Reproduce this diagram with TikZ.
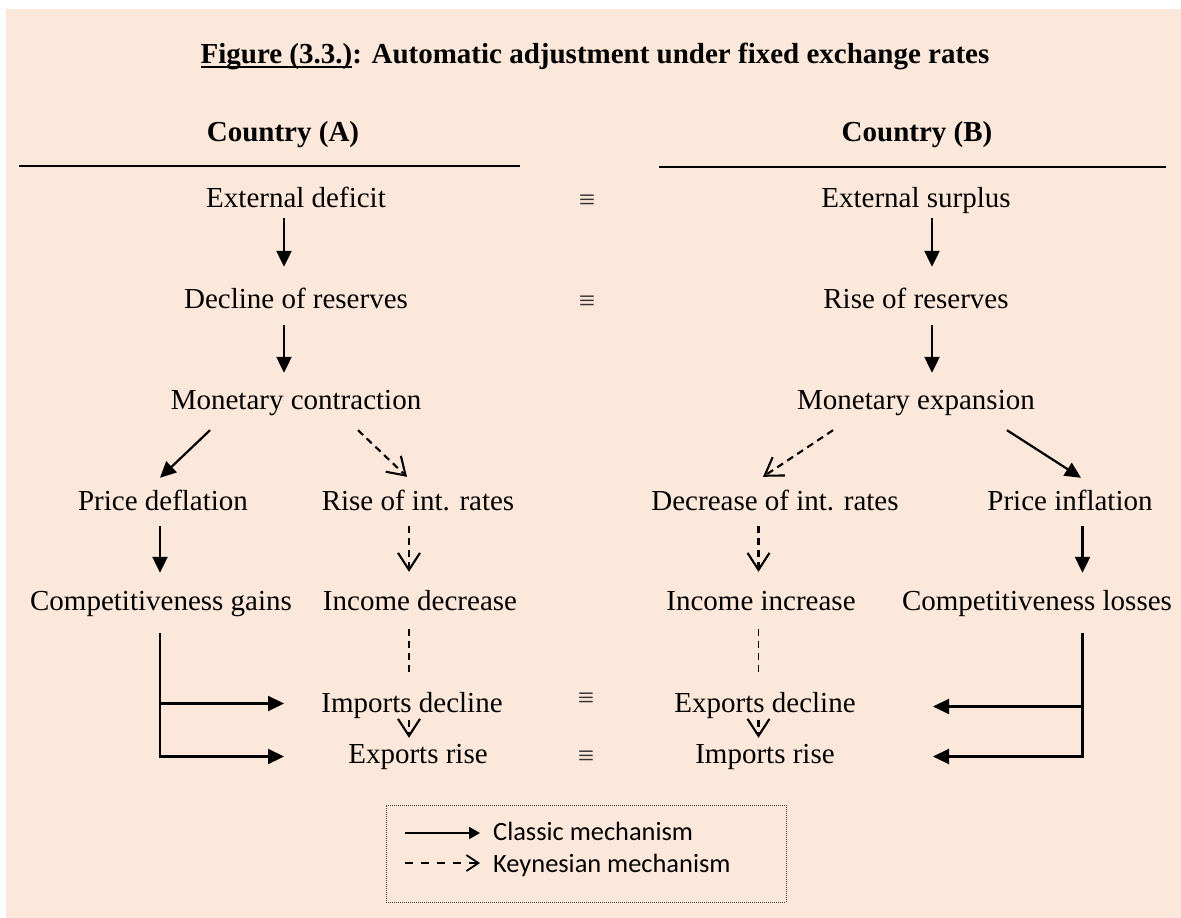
\documentclass[tikz,border=0pt]{standalone}
\usepackage{fontspec}
\setmainfont{Liberation Serif}
\newfontfamily\legendfont{Carlito}
\usetikzlibrary{arrows.meta,calc}
\definecolor{bgpeach}{RGB}{252,232,218}
\newcommand{\bodysize}{\fontsize{29}{34}\selectfont}
\newcommand{\myul}[1]{\setbox0\hbox{#1}\rlap{\rule[-5pt]{\wd0}{2pt}}\box0}
\begin{document}
\begin{tikzpicture}[x=1pt,y=-1pt,
  every node/.style={font=\bodysize},
  lbl/.style={inner sep=0pt, text height=20pt, text depth=7pt, anchor=base},
  eqv/.style={inner sep=0pt, text=black!80},
  solidarr/.style={line width=2.2pt, -{Triangle[length=16pt,width=15pt]}},
  dasharr/.style={line width=2.1pt, dash pattern=on 7pt off 5pt, -{Straight Barb[length=17pt,width=22pt,line width=2.1pt]}},
  dashline/.style={line width=1.6pt, dash pattern=on 7pt off 5pt},
  rulestyle/.style={line width=2pt},
  legtext/.style={inner sep=0pt, anchor=base west, font=\legendfont\fontsize{26.4}{30}\selectfont},
]
\useasboundingbox (0,0) rectangle (1181,918);
\fill[bgpeach] (6,9) rectangle (1181,918);

% title and headers
\node[lbl, font=\bfseries\bodysize] (title) at (595,63) {\myul{Figure (3.3.)}: Automatic adjustment under fixed exchange rates};
\node[lbl, font=\bfseries\bodysize] (ca) at (283,141) {Country (A)};
\node[lbl, font=\bfseries\bodysize] (cb) at (917,141) {Country (B)};
\draw[rulestyle] (19,166) -- (520,166);
\draw[rulestyle] (659,167) -- (1166,167);

% column coordinates
\coordinate (colA) at (284,0);
\coordinate (colB) at (932,0);
\coordinate (c1) at (160,0);
\coordinate (c2) at (409,0);
\coordinate (c3) at (758.5,0);
\coordinate (c4) at (1082.5,0);
\coordinate (tipR) at (933,0);

% nodes
\node[lbl] (ed) at (296,207) {External deficit};
\node[lbl] (es) at (916,207) {External surplus};
\node[lbl] (dr) at (296,308) {Decline of reserves};
\node[lbl] (rr) at (916,308) {Rise of reserves};
\node[lbl] (mc) at (296,409) {Monetary contraction};
\node[lbl] (me) at (916,409) {Monetary expansion};
\node[lbl] (pd) at (163,510) {Price deflation};
\node[lbl] (ri) at (418,510) {Rise of int. rates};
\node[lbl] (di) at (775,510) {Decrease of int. rates};
\node[lbl] (pi) at (1070,510) {Price inflation};
\node[lbl] (cg) at (161,610) {Competitiveness gains};
\node[lbl] (id) at (420,610) {Income decrease};
\node[lbl] (ii) at (761,610) {Income increase};
\node[lbl] (cl) at (1037,610) {Competitiveness losses};
\node[lbl] (imd) at (412,712) {Imports decline};
\node[lbl] (exd) at (765,712) {Exports decline};
\node[lbl] (exr) at (418,763) {Exports rise};
\node[lbl] (imr) at (765,763) {Imports rise};

\node[eqv] (e1) at (587,202) {≡};
\node[eqv] (e2) at (587,303) {≡};
\node[eqv] (e3) at (586,700) {≡};
\node[eqv] (e4) at (586,758) {≡};

% arrows country A
\draw[solidarr] ($(ed.south -| colA)+(0,4)$) -- ($(dr.north -| colA)+(0,-21)$);
\draw[solidarr] ($(dr.south -| colA)+(0,10)$) -- ($(mc.north -| colA)+(0,-16)$);
\draw[solidarr] ($(mc.south)+(-86,14)$) -- ($(pd.north)+(-3,-12)$);
\draw[dasharr] ($(mc.south)+(62,14)$) -- ($(ri.north)+(-11,-13)$);
\draw[solidarr] ($(pd.south -| c1)+(0,9)$) -- ($(cg.north -| c1)+(0,-17)$);
\draw[dasharr] ($(ri.south -| c2)+(0,9)$) -- ($(id.north -| c2)+(0,-18)$);
\draw[dashline] ($(id.south -| c2)+(0,12)$) -- ($(imd.north -| c2)+(0,-15)$);
\draw[dasharr] ($(imd.south -| c2)+(0,1)$) -- ($(exr.north -| c2)+(0,-5)$);
\draw[solidarr] ($(cg.south -| c1)+(0,16)$) -- (exr.center -| c1) -- (exr.center -| colA);
\draw[solidarr] ($(imd.center -| c1)+(0,-2)$) -- ($(imd.center -| colA)+(0,-2)$);

% arrows country B
\draw[solidarr] ($(es.south -| colB)+(0,4)$) -- ($(rr.north -| colB)+(0,-21)$);
\draw[solidarr] ($(rr.south -| colB)+(0,10)$) -- ($(me.north -| colB)+(0,-16)$);
\draw[dasharr] ($(me.south)+(-83,14)$) -- ($(di.north)+(-12,-13)$);
\draw[solidarr] ($(me.south)+(91,14)$) -- ($(pi.north)+(11,-12)$);
\draw[dasharr] ($(di.south -| c3)+(0,9)$) -- ($(ii.north -| c3)+(0,-18)$);
\draw[solidarr] ($(pi.south -| c4)+(0,9)$) -- ($(cl.north -| c4)+(0,-17)$);
\draw[dashline] ($(ii.south -| c3)+(0,12)$) -- ($(exd.north -| c3)+(0,-15)$);
\draw[dasharr] ($(exd.south -| c3)+(0,1)$) -- ($(imr.north -| c3)+(0,-5)$);
\draw[solidarr] ($(cl.south -| c4)+(0,16)$) -- (imr.center -| c4) -- (imr.center -| tipR);
\draw[solidarr] ($(exd.center -| c4)+(0,1)$) -- ($(exd.center -| tipR)+(0,1)$);

% legend
\node[draw=black!75, densely dotted, line width=1pt, minimum width=400pt, minimum height=97pt, inner sep=0pt] (legend) at (586,853.5) {};
\node[legtext] (lg1) at (493,840) {Classic mechanism};
\node[legtext] (lg2) at (493,872) {Keynesian mechanism};
\draw[line width=1.8pt, -{Triangle[length=11pt,width=12pt]}] ($(lg1.base west)+(-88,-7)$) -- ($(lg1.base west)+(-13,-7)$);
\draw[line width=1.8pt, dash pattern=on 8pt off 8pt, -{Straight Barb[length=12pt,width=16pt,line width=1.8pt]}] ($(lg2.base west)+(-88,-9)$) -- ($(lg2.base west)+(-13,-9)$);
\end{tikzpicture}
\end{document}
